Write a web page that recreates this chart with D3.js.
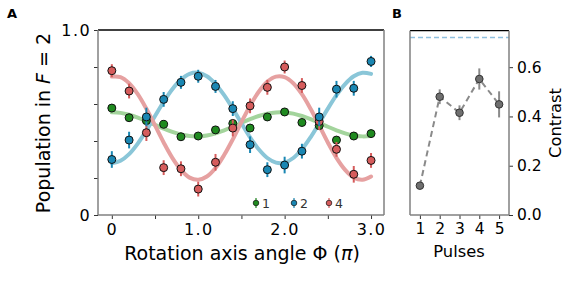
<!DOCTYPE html>
<html>
<head>
<meta charset="utf-8">
<script src="https://cdn.jsdelivr.net/npm/d3@7"></script>
<style>
    body { margin: 0; background: #fff; }
    text { font-family: "DejaVu Sans", sans-serif; fill: #000; }
</style>
</head>
<body>
<script>
//data for panel A: rotation axis angle (units of pi)
var angles = [0, 0.2, 0.4, 0.6, 0.8, 1.0, 1.2, 1.4, 1.6, 1.8, 2.0, 2.2, 2.4, 2.6, 2.8, 3.0];

//measured population, one array per pulse number
var pop1 = [0.578, 0.526, 0.51, 0.49, 0.423, 0.427, 0.46, 0.495, 0.47, 0.53, 0.557, 0.50, 0.483, 0.405, 0.427, 0.44];
var err1 = [0.02, 0.02, 0.02, 0.02, 0.02, 0.018, 0.02, 0.02, 0.02, 0.02, 0.02, 0.02, 0.02, 0.02, 0.02, 0.02];
var pop2 = [0.30, 0.405, 0.53, 0.625, 0.717, 0.75, 0.695, 0.575, 0.38, 0.245, 0.27, 0.345, 0.53, 0.68, 0.685, 0.83];
var err2 = [0.045, 0.045, 0.05, 0.04, 0.035, 0.035, 0.035, 0.04, 0.045, 0.04, 0.045, 0.04, 0.05, 0.045, 0.04, 0.03];
var pop4 = [0.78, 0.67, 0.445, 0.256, 0.25, 0.14, 0.285, 0.47, 0.59, 0.69, 0.80, 0.70, 0.505, 0.355, 0.22, 0.295];
var err4 = [0.035, 0.04, 0.045, 0.04, 0.04, 0.04, 0.045, 0.045, 0.04, 0.04, 0.035, 0.04, 0.045, 0.04, 0.045, 0.04];

//fit curves, sampled every 0.1
var fitAngles = d3.range(0, 31).map(function(i){ return i / 10; });
var fit1 = [0.555, 0.552, 0.542, 0.527, 0.508, 0.487, 0.467, 0.449, 0.435, 0.427, 0.425, 0.430, 0.441, 0.458, 0.477, 0.498,
    0.518, 0.535, 0.548, 0.554, 0.554, 0.548, 0.535, 0.518, 0.498, 0.477, 0.458, 0.441, 0.430, 0.425, 0.427];
var fit2 = [0.280, 0.293, 0.329, 0.386, 0.457, 0.535, 0.612, 0.680, 0.732, 0.763, 0.769, 0.750, 0.708, 0.648, 0.575, 0.496,
    0.420, 0.355, 0.308, 0.283, 0.283, 0.308, 0.355, 0.420, 0.496, 0.575, 0.648, 0.708, 0.750, 0.769, 0.763];
var fit4 = [0.748, 0.745, 0.712, 0.653, 0.574, 0.484, 0.392, 0.309, 0.244, 0.202, 0.190, 0.208, 0.254, 0.324, 0.409, 0.502,
    0.591, 0.666, 0.721, 0.748, 0.745, 0.712, 0.653, 0.574, 0.484, 0.392, 0.309, 0.244, 0.202, 0.190, 0.208];

//data for panel B
var pulses = [1, 2, 3, 4, 5];
var contrast = [0.119, 0.48, 0.415, 0.552, 0.449];
var contrastErr = [0.008, 0.03, 0.03, 0.043, 0.053];
var contrastLimit = 0.72;

var xTicksA = [0, 0.5, 1.0, 1.5, 2.0, 2.5, 3.0];
var yTicksA = [0, 0.2, 0.4, 0.6, 0.8, 1.0];
var yTicksB = [0, 0.2, 0.4, 0.6];

window.onload = function(){

    var w = 582, h = 288;
    var spineGray = "#808080";

    var svg = d3.select("body")
        .append("svg")
        .attr("width", w)
        .attr("height", h);

    // ---------- panel A ----------
    var xA = d3.scaleLinear().domain([-0.16, 3.15]).range([98, 384]);
    var yA = d3.scaleLinear().domain([0, 1]).range([215, 30]);

    var series = [
        {name: "1", pop: pop1, err: err1, fit: fit1, color: "#1f8a1f", fitColor: "#a3d49c"},
        {name: "2", pop: pop2, err: err2, fit: fit2, color: "#1a87b3", fitColor: "#8ac6d8"},
        {name: "4", pop: pop4, err: err4, fit: fit4, color: "#d65c5c", fitColor: "#e6a1a1"}
    ];

    //axes first so ticks sit under the spines
    var xAxisA = svg.append("g")
        .attr("transform", "translate(0,215)")
        .call(d3.axisBottom(xA)
            .tickValues(xTicksA)
            .tickSize(4)
            .tickPadding(5)
            .tickFormat(function(d){
                if (d === 0) return "0";
                return d % 1 === 0 ? d3.format(".1f")(d) : "";
            }));
    var yAxisA = svg.append("g")
        .attr("transform", "translate(98,0)")
        .call(d3.axisLeft(yA)
            .tickValues(yTicksA)
            .tickSize(4)
            .tickPadding(3)
            .tickFormat(function(d){
                if (d === 0) return "0";
                return d === 1 ? "1.0" : "";
            }));
    [xAxisA, yAxisA].forEach(function(ax){
        ax.select(".domain").remove();
        ax.selectAll(".tick line").attr("stroke", "#333").attr("stroke-width", 1);
        ax.selectAll(".tick text")
            .style("font-size", "16px")
            .style("letter-spacing", "1.4px")
            .style("font-family", "DejaVu Sans")
            .attr("fill", "#000");
    });

    //fit lines
    var line = d3.line()
        .x(function(d){ return xA(d[0]); })
        .y(function(d){ return yA(d[1]); })
        .curve(d3.curveCatmullRom);

    series.forEach(function(s){
        svg.append("path")
            .datum(fitAngles.map(function(a, i){ return [a, s.fit[i]]; }))
            .attr("d", line)
            .attr("fill", "none")
            .attr("stroke", s.fitColor)
            .attr("stroke-width", 4)
            .attr("stroke-linecap", "round");
    });

    //error bars and points, order green, red, blue
    [series[0], series[2], series[1]].forEach(function(s){
        var g = svg.append("g").attr("class", "series" + s.name);
        g.selectAll("line")
            .data(angles)
            .enter()
            .append("line")
            .attr("x1", function(d){ return xA(d); })
            .attr("x2", function(d){ return xA(d); })
            .attr("y1", function(d, i){ return yA(s.pop[i] - s.err[i]); })
            .attr("y2", function(d, i){ return yA(s.pop[i] + s.err[i]); })
            .attr("stroke", s.color)
            .attr("stroke-width", 2);
        g.selectAll("circle")
            .data(angles)
            .enter()
            .append("circle")
            .attr("cx", function(d){ return xA(d); })
            .attr("cy", function(d, i){ return yA(s.pop[i]); })
            .attr("r", 4)
            .attr("fill", s.color)
            .attr("stroke", "#111")
            .attr("stroke-width", 1);
    });

    //spines
    svg.append("line").attr("x1", 98).attr("x2", 384).attr("y1", 30).attr("y2", 30)
        .attr("stroke", "#000").attr("stroke-width", 1.3);
    svg.append("line").attr("x1", 98).attr("x2", 98).attr("y1", 30).attr("y2", 215)
        .attr("stroke", spineGray).attr("stroke-width", 1.5);
    svg.append("line").attr("x1", 384).attr("x2", 384).attr("y1", 30).attr("y2", 215)
        .attr("stroke", spineGray).attr("stroke-width", 1.5);
    svg.append("line").attr("x1", 98).attr("x2", 384).attr("y1", 215).attr("y2", 215)
        .attr("stroke", spineGray).attr("stroke-width", 1.5);

    //legend
    var legendX = [256, 294, 329];
    series.forEach(function(s, i){
        var lg = svg.append("g").attr("transform", "translate(" + legendX[i] + ",203)");
        lg.append("line").attr("y1", -5).attr("y2", 5)
            .attr("stroke", s.color).attr("stroke-width", 1.2);
        lg.append("circle").attr("r", 2.8)
            .attr("fill", s.color).attr("stroke", "#111").attr("stroke-width", 0.7);
        lg.append("text").attr("x", 6).attr("y", 4.5)
            .style("font-size", "12.5px")
            .style("fill", "#333")
            .text(s.name);
    });

    //axis labels
    svg.append("text")
        .attr("text-anchor", "middle")
        .attr("x", 242)
        .attr("y", 259.5)
        .style("font-size", "19px")
        .html("Rotation axis angle Φ (<tspan font-style='italic'>π</tspan>)");

    svg.append("text")
        .attr("text-anchor", "middle")
        .attr("transform", "translate(50,123) rotate(-90)")
        .style("font-size", "19px")
        .html("Population in <tspan font-style='italic'>F</tspan> = 2");

    svg.append("text").attr("x", 7).attr("y", 18)
        .style("font-size", "13px").style("font-weight", "bold").text("A");

    // ---------- panel B ----------
    var xB = d3.scaleLinear().domain([0.5, 5.5]).range([410, 509]);
    var yB = d3.scaleLinear().domain([0, 0.748]).range([215, 30.7]);

    var xAxisB = svg.append("g")
        .attr("transform", "translate(0,215)")
        .call(d3.axisBottom(xB).tickValues(pulses).tickSize(4).tickPadding(4).tickFormat(d3.format("d")));
    var yAxisB = svg.append("g")
        .attr("transform", "translate(509,0)")
        .call(d3.axisRight(yB).tickValues(yTicksB).tickSize(4).tickPadding(4).tickFormat(d3.format(".1f")));
    [xAxisB, yAxisB].forEach(function(ax){
        ax.select(".domain").remove();
        ax.selectAll(".tick line").attr("stroke", "#333").attr("stroke-width", 1);
        ax.selectAll(".tick text").style("font-size", "15.5px").style("font-family", "DejaVu Sans").attr("fill", "#000");
    });

    //upper limit line
    svg.append("line")
        .attr("x1", 410).attr("x2", 509)
        .attr("y1", yB(contrastLimit)).attr("y2", yB(contrastLimit))
        .attr("stroke", "#8fc0df")
        .attr("stroke-width", 1.5)
        .attr("stroke-dasharray", "5,3");

    //dashed connecting line
    svg.append("path")
        .datum(pulses)
        .attr("d", d3.line()
            .x(function(d){ return xB(d); })
            .y(function(d, i){ return yB(contrast[i]); }))
        .attr("fill", "none")
        .attr("stroke", "#8a8a8a")
        .attr("stroke-width", 2)
        .attr("stroke-dasharray", "6,4");

    svg.selectAll(".contrastErr")
        .data(pulses)
        .enter()
        .append("line")
        .attr("class", "contrastErr")
        .attr("x1", function(d){ return xB(d); })
        .attr("x2", function(d){ return xB(d); })
        .attr("y1", function(d, i){ return yB(contrast[i] - contrastErr[i]); })
        .attr("y2", function(d, i){ return yB(contrast[i] + contrastErr[i]); })
        .attr("stroke", "#8a8a8a")
        .attr("stroke-width", 2);

    svg.selectAll(".contrastPt")
        .data(pulses)
        .enter()
        .append("circle")
        .attr("class", "contrastPt")
        .attr("cx", function(d){ return xB(d); })
        .attr("cy", function(d, i){ return yB(contrast[i]); })
        .attr("r", 3.8)
        .attr("fill", "#6f6f6f")
        .attr("stroke", "#333")
        .attr("stroke-width", 1);

    //spines
    svg.append("line").attr("x1", 410).attr("x2", 509).attr("y1", 30.7).attr("y2", 30.7)
        .attr("stroke", "#000").attr("stroke-width", 1.3);
    svg.append("line").attr("x1", 410).attr("x2", 410).attr("y1", 30.7).attr("y2", 215)
        .attr("stroke", spineGray).attr("stroke-width", 1.5);
    svg.append("line").attr("x1", 509).attr("x2", 509).attr("y1", 30.7).attr("y2", 215)
        .attr("stroke", spineGray).attr("stroke-width", 1.5);
    svg.append("line").attr("x1", 410).attr("x2", 509).attr("y1", 215).attr("y2", 215)
        .attr("stroke", spineGray).attr("stroke-width", 1.5);

    svg.append("text")
        .attr("text-anchor", "middle")
        .attr("x", 459)
        .attr("y", 256.5)
        .style("font-size", "16.3px")
        .text("Pulses");

    svg.append("text")
        .attr("text-anchor", "middle")
        .attr("transform", "translate(561,123) rotate(-90)")
        .style("font-size", "16.4px")
        .text("Contrast");

    svg.append("text").attr("x", 392).attr("y", 17.5)
        .style("font-size", "13px").style("font-weight", "bold").text("B");
};
</script>
</body>
</html>
